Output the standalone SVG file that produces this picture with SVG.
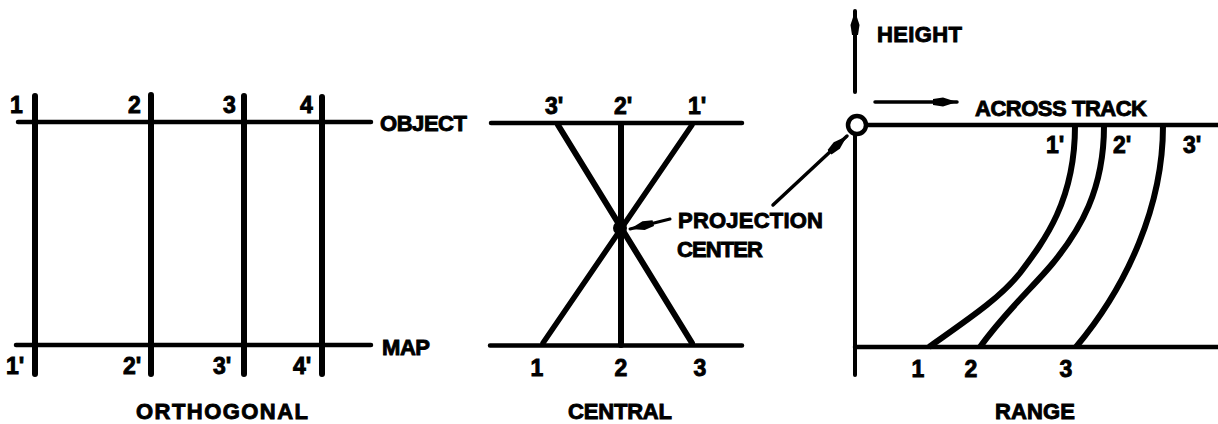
<svg xmlns="http://www.w3.org/2000/svg" width="1218" height="424" viewBox="0 0 1218 424">
<style>
.l{fill:none;stroke:#000;stroke-linecap:round}
.h{stroke-width:4.500}
.v{stroke-width:6}
.c{stroke-width:6;stroke-linecap:butt}
.t{font-family:"Liberation Sans",Arial,sans-serif;font-weight:700;font-size:22px;fill:#000;stroke:#000;stroke-width:.9}
.n{font-size:23px}
.m{text-anchor:middle}
</style>
<defs>
<marker id="a" markerUnits="userSpaceOnUse" markerWidth="26" markerHeight="12" refX="24" refY="6" orient="auto"><path d="M0 3 L10 1.500 L24 6 L10 10.500 L0 9Z"/></marker>
</defs>
<rect width="1218" height="424" fill="#fff"/>
<g id="connectors">
<g id="orthogonal-lines">
<path class="l h" d="M18 122H371M16 345H371"/>
<path class="l v" d="M35 96V374M151 95V374M244 96V374M322 97V374"/>
</g>
<g id="central-lines">
<path class="l h" d="M491 123H742M490 345.500H742"/>
<path class="l v" d="M621 125V345M558 125L692 343"/>
<path class="l" stroke-width="5.500" d="M692 125L543 343"/>
<path class="l" stroke-width="3" marker-end="url(#a)" d="M670 219L630 229"/>
<circle cx="620" cy="228" r="7" fill="#000"/>
</g>
<g id="range-lines">
<path class="l" stroke-width="4" marker-end="url(#a)" d="M855 92V11"/>
<path class="l" stroke-width="4" d="M855 135V375"/>
<path class="l h" d="M866 125H1218M855 347H1218"/>
<path class="l" stroke-width="3.500" marker-end="url(#a)" d="M875 102H957"/>
<path class="l" stroke-width="3.500" marker-end="url(#a)" d="M773 205L847 136"/>
<path class="l c" d="M1075 126C1075 200 1045 240 1020 273C1000 298 970 318 929 347"/>
<path class="l c" d="M1104 126C1104 190 1080 230 1053 263C1035 285 1005 312 980 347"/>
<path class="l c" d="M1163 126C1163 205 1128 285 1076 347"/>
</g>
</g>
<g id="node-origin"><circle cx="857" cy="125" r="9" fill="#fff" stroke="#000" stroke-width="4.500"/></g>
<g id="labels-orthogonal">
<text class="t n" x="10" y="113">1</text>
<text class="t n" x="128" y="113">2</text>
<text class="t n" x="223" y="113">3</text>
<text class="t n" x="300" y="113">4</text>
<text class="t n" x="6" y="374">1'</text>
<text class="t n" x="123" y="374">2'</text>
<text class="t n" x="213" y="374">3'</text>
<text class="t n" x="293" y="374">4'</text>
<text class="t" x="380" y="131" textLength="87">OBJECT</text>
<text class="t" x="382" y="355" textLength="48">MAP</text>
<text class="t" x="136" y="419" textLength="172">ORTHOGONAL</text>
</g>
<g id="labels-central">
<text class="t n" x="545" y="114">3'</text>
<text class="t n" x="614" y="114">2'</text>
<text class="t n" x="688" y="114">1'</text>
<text class="t n m" x="537" y="376">1</text>
<text class="t n m" x="621" y="376">2</text>
<text class="t n m" x="700" y="376">3</text>
<text class="t" x="678" y="228" textLength="145">PROJECTION</text>
<text class="t" x="677" y="257" textLength="86">CENTER</text>
<text class="t" x="568" y="419" textLength="104">CENTRAL</text>
</g>
<g id="labels-range">
<text class="t" x="877" y="42" textLength="85">HEIGHT</text>
<text class="t" x="975" y="116" textLength="172">ACROSS TRACK</text>
<text class="t n" x="1046" y="153">1'</text>
<text class="t n" x="1113" y="153">2'</text>
<text class="t n" x="1183" y="153">3'</text>
<text class="t n m" x="918" y="377">1</text>
<text class="t n m" x="971" y="377">2</text>
<text class="t n m" x="1066" y="377">3</text>
<text class="t" x="995" y="419" textLength="80">RANGE</text>
</g>
</svg>
